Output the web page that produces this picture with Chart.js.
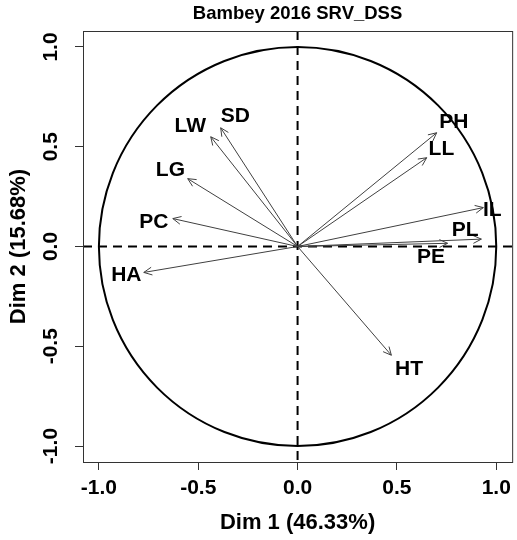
<!DOCTYPE html>
<html>
<head>
<meta charset="utf-8">
<script src="https://cdn.jsdelivr.net/npm/chart.js@4"></script>
<style>
  html, body { margin: 0; padding: 0; background: #fff; }
  #wrap { width: 517px; height: 540px; }
</style>
</head>
<body>
<div id="wrap"><canvas id="pca" width="517" height="540"></canvas></div>
<script>
// ─── Data ─────────────────────────────────────────────────────
const chartTitle = 'Bambey 2016 SRV_DSS';
const xTitle = 'Dim 1 (46.33%)';
const yTitle = 'Dim 2 (15.68%)';
const tickVals = [-1, -0.5, 0, 0.5, 1];

const varNames = ['PH', 'LL', 'IL', 'PL', 'PE', 'HT', 'SD', 'LW', 'LG', 'PC', 'HA'];
const dim1 = [0.70, 0.65, 0.935, 0.925, 0.755, 0.472, -0.387, -0.437, -0.553, -0.628, -0.774];
const dim2 = [0.57, 0.445, 0.195, 0.037, 0.016, -0.545, 0.595, 0.55, 0.34, 0.14, -0.13];

// label anchor points (data units), as placed in the original plot
const labelX = [0.787, 0.724, 0.980, 0.843, 0.672, 0.561, -0.313, -0.540, -0.640, -0.724, -0.862];
const labelY = [0.627, 0.491, 0.187, 0.087, -0.049, -0.610, 0.656, 0.610, 0.387, 0.128, -0.137];

// ─── Styling ──────────────────────────────────────────────────
const FONT = "'Liberation Sans', Arial, sans-serif";
const LIM = 1.08;

const datasets = varNames.map((name, i) => ({
  label: name,
  type: 'line',
  data: [{ x: 0, y: 0 }, { x: dim1[i], y: dim2[i] }],
  borderColor: '#404040',
  borderWidth: 1,
  pointRadius: 0,
  fill: false,
}));

// circle, dashed zero lines, box, arrowheads, labels, title, y tick labels
const decor = {
  id: 'decor',
  beforeDatasetsDraw(chart) {
    const { ctx, chartArea: a, scales: { x, y } } = chart;
    const cx = x.getPixelForValue(0), cy = y.getPixelForValue(0);
    ctx.save();
    ctx.strokeStyle = '#000';
    ctx.lineWidth = 2;
    ctx.beginPath();
    ctx.ellipse(cx, cy, x.getPixelForValue(1) - cx, cy - y.getPixelForValue(1), 0, 0, Math.PI * 2);
    ctx.stroke();
    ctx.setLineDash([9, 6]);
    ctx.beginPath();
    ctx.moveTo(a.left, cy); ctx.lineTo(a.right, cy);
    ctx.moveTo(cx, a.top); ctx.lineTo(cx, a.bottom);
    ctx.stroke();
    ctx.restore();
  },
  afterDatasetsDraw(chart) {
    const { ctx, chartArea: a, scales: { x, y } } = chart;
    const x0 = x.getPixelForValue(0), y0 = y.getPixelForValue(0);
    ctx.save();
    // arrowheads
    ctx.strokeStyle = '#404040';
    ctx.lineWidth = 1;
    varNames.forEach((n, i) => {
      const px = x.getPixelForValue(dim1[i]), py = y.getPixelForValue(dim2[i]);
      const ang = Math.atan2(py - y0, px - x0);
      const len = 9, spread = Math.PI / 7;
      ctx.beginPath();
      ctx.moveTo(px - len * Math.cos(ang - spread), py - len * Math.sin(ang - spread));
      ctx.lineTo(px, py);
      ctx.lineTo(px - len * Math.cos(ang + spread), py - len * Math.sin(ang + spread));
      ctx.stroke();
    });
    // variable labels
    ctx.fillStyle = '#000';
    ctx.font = `bold 21px ${FONT}`;
    ctx.textAlign = 'center';
    ctx.textBaseline = 'middle';
    varNames.forEach((n, i) => {
      ctx.fillText(n, x.getPixelForValue(labelX[i]), y.getPixelForValue(labelY[i]) + 1);
    });
    // box
    ctx.strokeStyle = '#333';
    ctx.lineWidth = 1;
    ctx.strokeRect(a.left + 0.5, a.top + 0.5, a.right - a.left, a.bottom - a.top);
    // title
    ctx.font = `bold 18.5px ${FONT}`;
    ctx.fillText(chartTitle, (a.left + a.right) / 2, 14);
    // y tick labels, rotated like R's default
    ctx.font = `bold 21px ${FONT}`;
    ctx.textBaseline = 'alphabetic';
    tickVals.forEach(v => {
      ctx.save();
      ctx.translate(57, y.getPixelForValue(v));
      ctx.rotate(-Math.PI / 2);
      ctx.fillText(v.toFixed(1), 0, 0);
      ctx.restore();
    });
    ctx.restore();
  },
};

new Chart(document.getElementById('pca').getContext('2d'), {
  type: 'scatter',
  data: { datasets },
  options: {
    responsive: false,
    animation: false,
    layout: { padding: { top: 31, right: 4, left: 0, bottom: 0 } },
    plugins: { legend: { display: false }, tooltip: { enabled: false } },
    scales: {
      x: {
        type: 'linear',
        min: -LIM, max: LIM,
        afterBuildTicks: s => { s.ticks = tickVals.map(v => ({ value: v })); },
        afterFit: s => { s.height = 78; },
        grid: { drawOnChartArea: false, drawTicks: true, tickLength: 8, color: '#333' },
        border: { display: false },
        ticks: {
          padding: 6, color: '#000', maxRotation: 0,
          font: { family: FONT, size: 21, weight: 'bold' },
          callback: v => Number(v).toFixed(1),
        },
        title: {
          display: true, text: xTitle, color: '#000',
          font: { family: FONT, size: 22, weight: 'bold' },
          padding: { top: 0, bottom: 4 },
        },
      },
      y: {
        type: 'linear',
        min: -LIM, max: LIM,
        afterBuildTicks: s => { s.ticks = tickVals.map(v => ({ value: v })); },
        afterFit: s => { s.width = 83; },
        grid: { drawOnChartArea: false, drawTicks: true, tickLength: 8, color: '#333' },
        border: { display: false },
        ticks: { display: false },
        title: {
          display: true, text: yTitle, color: '#000',
          font: { family: FONT, size: 22, weight: 'bold' },
          padding: { top: 6, bottom: 0 },
        },
      },
    },
  },
  plugins: [decor],
});
</script>
</body>
</html>
